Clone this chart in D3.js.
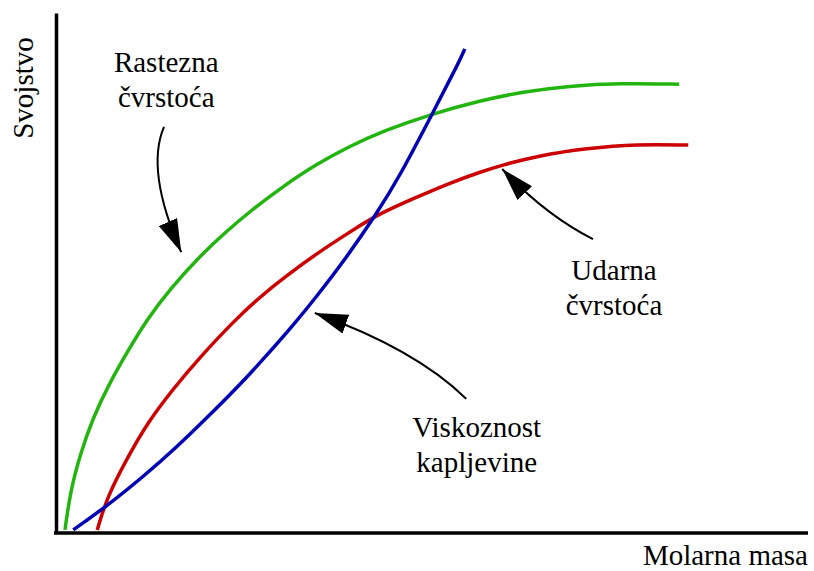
<!DOCTYPE html>
<html lang="sr">
<head>
    <meta charset="UTF-8">
    <script src="https://d3js.org/d3.v7.min.js"></script>
    <style>
        body { margin: 0; background: #fff; }
        svg { display: block; }
        text { font-family: "Liberation Serif", "Times New Roman", serif; font-size: 29px; fill: #000; }
    </style>
</head>
<body>
    <svg width="814" height="571"></svg>
    <script>
        // values, in arbitrary units (0..100 on both axes)
        let tensileX   = [1.2, 1.9, 3.2, 4.9, 7.2, 9.5, 12.1, 15.2, 19.2, 22.8, 25.9, 30.3, 34.8, 39.2, 43.6, 50.1, 56.5, 61.9, 68.5, 75.2, 83.1];
        let tensileY   = [0.6, 7.9, 15.0, 22.1, 29.0, 34.8, 41.0, 46.9, 53.3, 58.1, 61.9, 66.7, 71.0, 74.4, 77.3, 80.6, 83.1, 84.8, 86.0, 86.5, 86.3];
        let impactX    = [5.5, 6.8, 9.5, 12.1, 15.6, 19.2, 23.6, 27.2, 30.3, 34.8, 39.2, 42.8, 48.1, 52.5, 56.5, 59.6, 64.1, 70.8, 77.5, 84.3];
        let impactY    = [0.6, 6.9, 14.4, 21.0, 27.7, 33.8, 40.6, 45.4, 49.0, 53.8, 57.9, 61.2, 64.6, 67.3, 69.4, 70.8, 72.5, 74.0, 74.8, 74.6];
        let viscosityX = [2.3, 6.8, 11.6, 16.1, 20.5, 24.1, 27.2, 31.9, 34.8, 38.3, 42.8, 45.9, 50.1, 53.9, 54.5];
        let viscosityY = [0.6, 5.2, 10.8, 16.5, 22.7, 27.9, 32.7, 40.4, 45.6, 52.1, 61.5, 68.8, 80.4, 91.0, 93.1];

        let curveNames = ["Rastezna čvrstoća", "Udarna čvrstoća", "Viskoznost kapljevine"];

        let svg = d3.select("svg");
        let x = d3.scaleLinear().domain([0, 100]).range([56, 806]);
        let y = d3.scaleLinear().domain([0, 100]).range([533, 13]);

        let series = [
            { name: curveNames[0], xs: tensileX, ys: tensileY, color: "#22b50f" },
            { name: curveNames[1], xs: impactX, ys: impactY, color: "#cc0000" },
            { name: curveNames[2], xs: viscosityX, ys: viscosityY, color: "#0000b4" }
        ];

        // axes: plain lines, no ticks
        svg.append("g")
            .attr("transform", `translate(0,${y(0)})`)
            .call(d3.axisBottom(x).tickValues([]).tickSizeOuter(0))
            .select(".domain").attr("stroke-width", 3.5).attr("d", `M${x(0) - 2},0H${x(100) + 2}`);
        svg.append("g")
            .attr("transform", `translate(${x(0)},0)`)
            .call(d3.axisLeft(y).tickValues([]).tickSizeOuter(0))
            .select(".domain").attr("stroke-width", 3.5);

        // basis spline smooths out small reading errors
        let line = d3.line()
            .x(d => x(d[0]))
            .y(d => y(d[1]))
            .curve(d3.curveBasis);

        svg.selectAll(".curve")
            .data(series)
            .enter().append("path")
            .attr("class", "curve")
            .attr("fill", "none")
            .attr("stroke", d => d.color)
            .attr("stroke-width", 3.5)
            .attr("d", d => line(d.xs.map((v, i) => [v, d.ys[i]])));

        // arrow heads
        svg.append("defs").append("marker")
            .attr("id", "head")
            .attr("markerUnits", "userSpaceOnUse")
            .attr("viewBox", "0 0 33 20")
            .attr("refX", 33).attr("refY", 10)
            .attr("markerWidth", 33).attr("markerHeight", 20)
            .attr("orient", "auto")
            .append("path").attr("d", "M0,0L33,10L0,20Z").attr("fill", "#000");

        // annotations: [tail, control, tip] in data units
        let notes = [
            { lines: ["Rastezna", "čvrstoća"], at: [14.7, 88.7], arrow: [[14.4, 78.1], [11.9, 69.7], [16.7, 54.0]] },
            { lines: ["Udarna", "čvrstoća"], at: [74.4, 48.7], arrow: [[71.6, 56.5], [65.2, 61.2], [59.5, 70.0]] },
            { lines: ["Viskoznost", "kapljevine"], at: [56.1, 18.5], arrow: [[54.7, 25.8], [47.9, 35.4], [34.5, 42.3]] }
        ];

        notes.forEach(n => {
            let p = n.arrow.map(d => [x(d[0]), y(d[1])]);
            let path = d3.path();
            path.moveTo(p[0][0], p[0][1]);
            path.quadraticCurveTo(p[1][0], p[1][1], p[2][0], p[2][1]);
            svg.append("path")
                .attr("d", path.toString())
                .attr("fill", "none")
                .attr("stroke", "#000")
                .attr("stroke-width", 2)
                .attr("marker-end", "url(#head)");

            let t = svg.append("text")
                .attr("x", x(n.at[0]))
                .attr("y", y(n.at[1]))
                .attr("text-anchor", "middle");
            n.lines.forEach((s, i) => {
                t.append("tspan").attr("x", x(n.at[0])).attr("dy", i ? 35 : 0).text(s);
            });
        });

        svg.append("text")
            .attr("transform", `translate(33,88) rotate(-90)`)
            .attr("text-anchor", "middle")
            .text("Svojstvo");

        svg.append("text")
            .attr("x", x(100) + 2)
            .attr("y", 565)
            .attr("text-anchor", "end")
            .text("Molarna masa");
    </script>
</body>
</html>
